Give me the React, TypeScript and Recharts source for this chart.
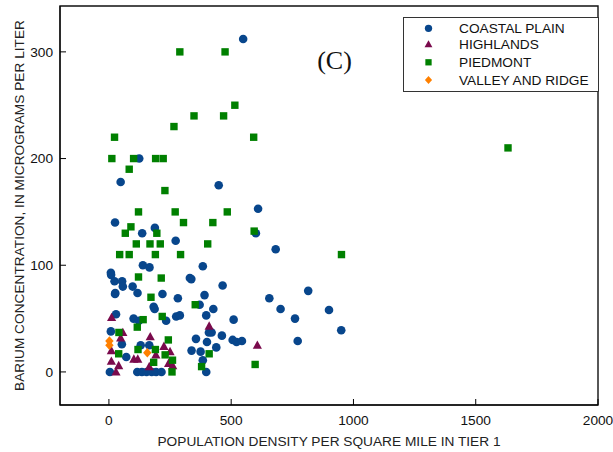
import React from 'react';
import { ScatterChart, Scatter, XAxis, YAxis, ReferenceArea, Legend, Label } from 'recharts';

const seriesNames = ['COASTAL PLAIN', 'HIGHLANDS', 'PIEDMONT', 'VALLEY AND RIDGE'];
const seriesColors = ['#08468c', '#7a0a4c', '#008000', '#ff8000'];

const xTicks = [0, 500, 1000, 1500, 2000];
const yTicks = [0, 100, 200, 300];

const xTitle = 'POPULATION DENSITY PER SQUARE MILE IN TIER 1';
const yTitle = 'BARIUM CONCENTRATION, IN MICROGRAMS PER LITER';
const panelTag = '(C)';

const coastalPlain: number[][] = [
  [549, 312], [124, 200], [48, 178], [449, 175], [610, 153], [25, 140], [188, 135], [136, 130],
  [601, 130], [273, 123], [682, 115], [139, 100], [166, 98], [384, 99], [8, 93], [9, 91],
  [23, 85], [54, 85], [57, 80], [97, 80], [331, 88], [337, 87], [465, 81], [815, 76],
  [26, 74], [25, 73], [117, 74], [219, 73], [391, 72], [282, 69], [656, 69], [183, 61],
  [187, 59], [371, 63], [427, 59], [702, 59], [900, 58], [29, 54], [275, 52], [290, 53],
  [398, 53], [101, 50], [123, 48], [234, 48], [510, 49], [761, 50], [950, 39], [8, 38],
  [409, 37], [420, 37], [462, 34], [53, 26], [130, 25], [165, 25], [356, 31], [401, 28],
  [439, 23], [506, 30], [522, 28], [544, 29], [772, 29], [71, 14], [338, 20], [375, 19],
  [384, 11], [4, 0], [116, 0], [135, 0], [154, 0], [175, 0], [193, 0], [215, 0], [398, 0],
];

const highlands: number[][] = [
  [11, 51], [410, 43], [607, 25], [57, 37], [48, 32], [169, 33], [10, 20], [225, 24],
  [10, 10], [40, 6], [29, 0], [102, 12], [118, 12], [165, 5], [192, 16], [244, 8],
  [261, 6], [250, 19],
];

const piedmont: number[][] = [
  [290, 300], [475, 300], [515, 250], [348, 240], [469, 240], [266, 230], [23, 220], [592, 220],
  [12, 200], [101, 200], [191, 200], [222, 200], [83, 190], [229, 170], [121, 150], [271, 150],
  [484, 150], [305, 140], [425, 140], [90, 136], [67, 130], [196, 130], [594, 132], [112, 120],
  [168, 120], [210, 120], [404, 120], [44, 110], [83, 110], [190, 110], [293, 110], [951, 110],
  [1632, 210], [121, 89], [214, 88], [172, 70], [353, 63], [218, 52], [140, 49], [116, 42],
  [41, 37], [243, 30], [119, 21], [190, 21], [40, 17], [230, 16], [410, 17], [260, 11],
  [183, 9], [379, 5], [598, 7], [258, 0],
];

const valleyAndRidge: number[][] = [
  [2, 29], [2, 25], [157, 18],
];

const toPoints = (arr: number[][]) => arr.map(([x, y]) => ({ x, y }));

const FONT = '"Liberation Sans", Arial, sans-serif';

const drawMarker = (kind: number, cx: number, cy: number, s: number, color: string) => {
  if (kind === 0) return <circle cx={cx} cy={cy} r={4.3 * s} fill={color} />;
  if (kind === 1)
    return (
      <polygon
        points={`${cx},${cy - 4.8 * s} ${cx + 4.6 * s},${cy + 3.6 * s} ${cx - 4.6 * s},${cy + 3.6 * s}`}
        fill={color}
      />
    );
  if (kind === 2)
    return <rect x={cx - 3.7 * s} y={cy - 3.7 * s} width={7.4 * s} height={7.4 * s} fill={color} />;
  return (
    <polygon
      points={`${cx},${cy - 4.8 * s} ${cx + 4.2 * s},${cy} ${cx},${cy + 4.8 * s} ${cx - 4.2 * s},${cy}`}
      fill={color}
    />
  );
};

const makeShape = (kind: number) => (props: any) => {
  const { cx, cy } = props;
  if (cx == null || cy == null) return <g />;
  return drawMarker(kind, cx, cy, 1, seriesColors[kind]);
};

const legendRows = [11.3, 27.3, 45.3, 63];

const LegendBox = () => (
  <svg width={196} height={76} style={{ display: 'block' }}>
    <rect x={0.5} y={0.5} width={195} height={74} fill="#fff" stroke="#333" strokeWidth={1} />
    {seriesNames.map((name, i) => (
      <g key={name}>
        {drawMarker(i, 25.5, legendRows[i], 0.85, seriesColors[i])}
        <text x={56} y={legendRows[i] + 4.9} fontSize={13.7} fontFamily={FONT} fill="#111">
          {name}
        </text>
      </g>
    ))}
  </svg>
);

export default function App() {
  return (
    <div style={{ position: 'absolute', left: 0, top: 0, width: 613, height: 452, background: '#fff' }}>
      <ScatterChart width={613} height={452} margin={{ top: 6, right: 15, left: 0, bottom: 0 }}>
        <XAxis
          type="number"
          dataKey="x"
          domain={[-200, 2000]}
          ticks={xTicks}
          allowDataOverflow
          height={47}
          tickSize={-6}
          tickMargin={16}
          tickLine={{ stroke: '#000' }}
          axisLine={{ stroke: '#000' }}
          tick={{ fontSize: 13.7, fontFamily: FONT, fill: '#111' }}
        >
          <Label
            content={() => (
              <text x={329} y={446} textAnchor="middle" fontSize={13.7} fontFamily={FONT} fill="#222">
                {xTitle}
              </text>
            )}
          />
          <Label
            content={() => (
              <text x={334.5} y={69} textAnchor="middle" fontSize={26} fontFamily='"Liberation Serif", "Times New Roman", serif' fill="#111">
                {panelTag}
              </text>
            )}
          />
        </XAxis>
        <YAxis
          type="number"
          dataKey="y"
          domain={[-31, 343]}
          ticks={yTicks}
          allowDataOverflow
          width={60}
          tickSize={-6}
          tickMargin={13}
          tickLine={{ stroke: '#000' }}
          axisLine={{ stroke: '#000' }}
          tick={{ fontSize: 13.7, fontFamily: FONT, fill: '#111' }}
        >
          <Label
            content={() => (
              <text
                x={23.5}
                y={205.5}
                transform="rotate(-90, 23.5, 205.5)"
                textAnchor="middle"
                fontSize={13.7}
                fontFamily={FONT}
                fill="#222"
              >
                {yTitle}
              </text>
            )}
          />
        </YAxis>
        <ReferenceArea x1={-200} x2={2000} y1={-31} y2={343} fill="none" stroke="#111" strokeWidth={1.4} ifOverflow="visible" />
        <Scatter name={seriesNames[0]} data={toPoints(coastalPlain)} shape={makeShape(0)} isAnimationActive={false} />
        <Scatter name={seriesNames[1]} data={toPoints(highlands)} shape={makeShape(1)} isAnimationActive={false} />
        <Scatter name={seriesNames[2]} data={toPoints(piedmont)} shape={makeShape(2)} isAnimationActive={false} />
        <Scatter name={seriesNames[3]} data={toPoints(valleyAndRidge)} shape={makeShape(3)} isAnimationActive={false} />
        <Legend
          layout="horizontal"
          verticalAlign="middle"
          align="center"
          wrapperStyle={{ position: 'absolute', left: 403, top: 17, width: 196, height: 76, margin: 0, padding: 0 }}
          content={() => <LegendBox />}
        />
      </ScatterChart>
    </div>
  );
}
